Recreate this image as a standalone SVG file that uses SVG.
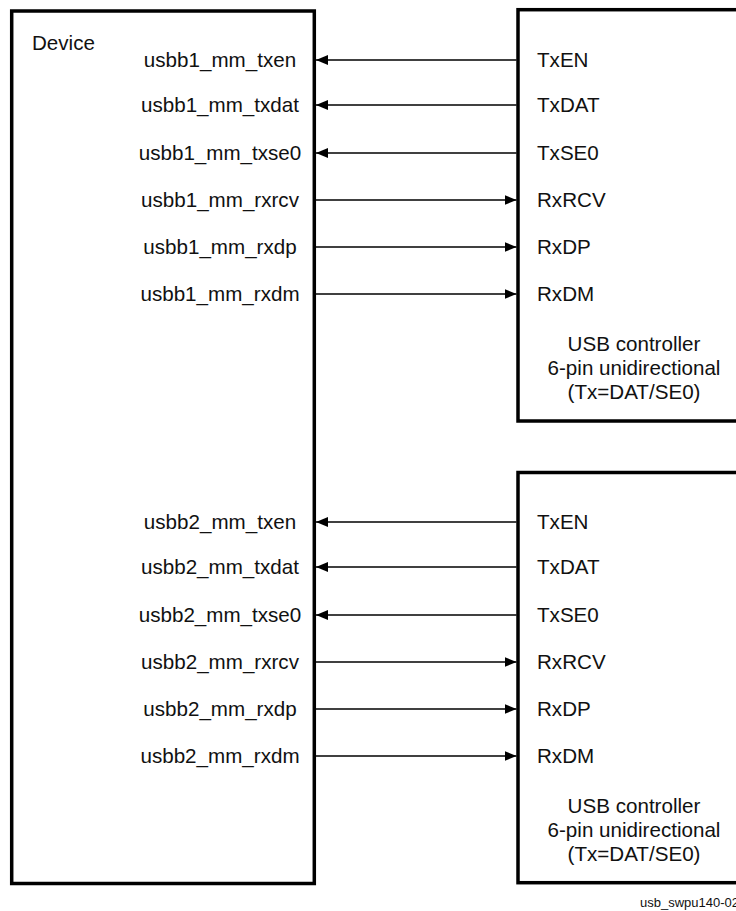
<svg xmlns="http://www.w3.org/2000/svg" width="736" height="911" viewBox="0 0 736 911">
<style>
.box{fill:#fff;stroke:#000;stroke-width:3.5}
.t{font-family:"Liberation Sans",Arial,sans-serif;font-size:20.6px;fill:#111}
.m{text-anchor:middle}
.w{stroke:#000;stroke-width:1.3;fill:none}
.f{font-family:"Liberation Sans",Arial,sans-serif;font-size:13px;fill:#111}
</style>
<defs>
<marker id="ah" viewBox="0 0 12 10" refX="12" refY="5" markerWidth="12" markerHeight="10" orient="auto" markerUnits="userSpaceOnUse">
<path d="M0,0 L12,5 L0,10 z" fill="#000"/>
</marker>
</defs>
<rect width="736" height="911" fill="#fff"/>
<g id="device">
<rect class="box" x="11.7" y="11" width="302.6" height="872.5"/>
<text class="t" x="32" y="50">Device</text>
<text class="t m" x="220" y="67">usbb1_mm_txen</text>
<text class="t m" x="220" y="112">usbb1_mm_txdat</text>
<text class="t m" x="220" y="160">usbb1_mm_txse0</text>
<text class="t m" x="220" y="207">usbb1_mm_rxrcv</text>
<text class="t m" x="220" y="254">usbb1_mm_rxdp</text>
<text class="t m" x="220" y="301">usbb1_mm_rxdm</text>
<text class="t m" x="220" y="529">usbb2_mm_txen</text>
<text class="t m" x="220" y="574">usbb2_mm_txdat</text>
<text class="t m" x="220" y="622">usbb2_mm_txse0</text>
<text class="t m" x="220" y="669">usbb2_mm_rxrcv</text>
<text class="t m" x="220" y="716">usbb2_mm_rxdp</text>
<text class="t m" x="220" y="763">usbb2_mm_rxdm</text>
</g>
<g id="usb1">
<rect class="box" x="518" y="9.7" width="300" height="411.3"/>
<text class="t" x="537" y="67">TxEN</text>
<text class="t" x="537" y="112">TxDAT</text>
<text class="t" x="537" y="160">TxSE0</text>
<text class="t" x="537" y="207">RxRCV</text>
<text class="t" x="537" y="254">RxDP</text>
<text class="t" x="537" y="301">RxDM</text>
<text class="t m" x="634" y="351">USB controller</text>
<text class="t m" x="634" y="375">6-pin unidirectional</text>
<text class="t m" x="634" y="399">(Tx=DAT/SE0)</text>
</g>
<g id="usb2">
<rect class="box" x="518" y="472.5" width="300" height="410.2"/>
<text class="t" x="537" y="529">TxEN</text>
<text class="t" x="537" y="574">TxDAT</text>
<text class="t" x="537" y="622">TxSE0</text>
<text class="t" x="537" y="669">RxRCV</text>
<text class="t" x="537" y="716">RxDP</text>
<text class="t" x="537" y="763">RxDM</text>
<text class="t m" x="634" y="813">USB controller</text>
<text class="t m" x="634" y="837">6-pin unidirectional</text>
<text class="t m" x="634" y="861">(Tx=DAT/SE0)</text>
</g>
<g id="connectors">
<line class="w" x1="516.5" y1="60" x2="316" y2="60" marker-end="url(#ah)"/>
<line class="w" x1="516.5" y1="105" x2="316" y2="105" marker-end="url(#ah)"/>
<line class="w" x1="516.5" y1="153" x2="316" y2="153" marker-end="url(#ah)"/>
<line class="w" x1="316" y1="200" x2="516.5" y2="200" marker-end="url(#ah)"/>
<line class="w" x1="316" y1="247" x2="516.5" y2="247" marker-end="url(#ah)"/>
<line class="w" x1="316" y1="294" x2="516.5" y2="294" marker-end="url(#ah)"/>
<line class="w" x1="516.5" y1="522" x2="316" y2="522" marker-end="url(#ah)"/>
<line class="w" x1="516.5" y1="567" x2="316" y2="567" marker-end="url(#ah)"/>
<line class="w" x1="516.5" y1="615" x2="316" y2="615" marker-end="url(#ah)"/>
<line class="w" x1="316" y1="662" x2="516.5" y2="662" marker-end="url(#ah)"/>
<line class="w" x1="316" y1="709" x2="516.5" y2="709" marker-end="url(#ah)"/>
<line class="w" x1="316" y1="756" x2="516.5" y2="756" marker-end="url(#ah)"/>
</g>
<text class="f" x="640" y="907">usb_swpu140-02</text>
</svg>
